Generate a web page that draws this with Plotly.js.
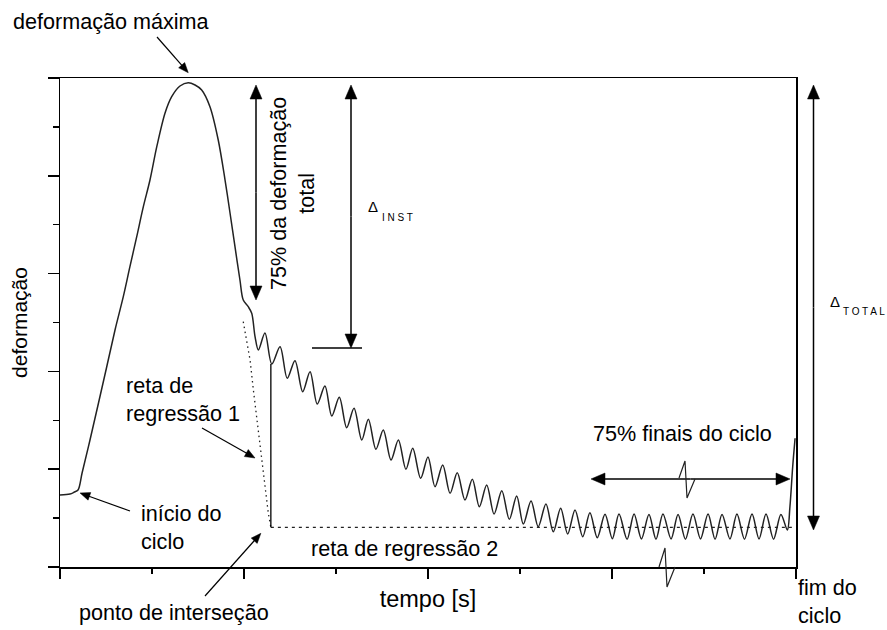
<!DOCTYPE html>
<html>
<head>
<meta charset="utf-8">
<script src="https://cdn.plot.ly/plotly-3.0.1.min.js"></script>
<style>html,body{margin:0;padding:0;background:#fff;}</style>
</head>
<body>
<div id="chart" style="width:887px;height:630px"></div>
<script>
// Deformation over one loading cycle (arbitrary units)
const tempo = [
  0.000, 0.054, 0.076, 0.098, 0.120, 0.163, 0.254, 0.299, 0.344, 0.380, 0.417, 0.453,
  0.489, 0.526, 0.571, 0.607, 0.652, 0.697, 0.734, 0.770, 0.815, 0.860,
  0.897, 0.924, 0.951, 0.978, 0.996, 1.023, 1.042, 1.060, 1.078,
  1.114, 1.151, 1.196, 1.235, 1.277, 1.319, 1.359, 1.398, 1.440, 1.477,
  1.518, 1.558, 1.598, 1.640, 1.676, 1.717, 1.757, 1.799, 1.839, 1.880,
  1.917, 1.960, 2.000, 2.038, 2.080, 2.120, 2.159, 2.201, 2.241, 2.279,
  2.319, 2.359, 2.401, 2.442, 2.482, 2.518, 2.560, 2.599, 2.641, 2.681,
  2.721, 2.759, 2.799, 2.841, 2.880, 2.920, 2.962, 3.002, 3.038, 3.082,
  3.120, 3.160, 3.201, 3.239, 3.277, 3.321, 3.359, 3.399, 3.440, 3.481,
  3.522, 3.560, 3.598, 3.641, 3.679, 3.720, 3.761, 3.799, 3.837, 3.878,
  3.918, 3.953, 3.967, 3.982, 3.995
];
const deformacao = [
  1.472, 1.493, 1.528, 1.575, 1.922, 2.597, 4.096, 4.847, 5.528, 6.141, 6.755, 7.368,
  7.914, 8.595, 9.284, 9.618, 9.836, 9.904, 9.857, 9.755, 9.413, 8.732,
  7.914, 7.239, 6.550, 5.869, 5.460, 5.323, 5.188, 4.710, 4.438,
  4.785, 4.151, 4.505, 3.859, 4.219, 3.585, 3.994, 3.333, 3.701, 3.088,
  3.470, 2.849, 3.245, 2.597, 3.020, 2.407, 2.802, 2.188, 2.597, 1.998,
  2.427, 1.814, 2.249, 1.642, 2.086, 1.507, 1.928, 1.370, 1.793, 1.233,
  1.677, 1.084, 1.560, 0.975, 1.452, 0.879, 1.350, 0.824, 1.288, 0.722,
  1.200, 0.675, 1.166, 0.620, 1.110, 0.600, 1.078, 0.580, 1.084, 0.570,
  1.084, 0.575, 1.074, 0.570, 1.084, 0.575, 1.074, 0.570, 1.084, 0.575,
  1.084, 0.570, 1.074, 0.575, 1.084, 0.570, 1.084, 0.575, 1.084, 0.570,
  1.074, 0.757, 1.233, 2.051, 2.632
];

// Regression line 1 (unloading branch)
const reg1Tempo  = [0.996, 1.033, 1.051, 1.078, 1.105, 1.132, 1.146];
const reg1Deform = [5.016, 4.233, 3.620, 2.740, 1.984, 1.104, 0.812];

// Intersection of regression lines 1 and 2
const intersecTempo = 1.146;
const intersecDeform = 0.812;

const W = 887, H = 630;
const M = {l: 60, r: 91, t: 78, b: 63};
const PW = W - M.l - M.r, PH = H - M.t - M.b;
const X_RANGE = [0, 4], Y_RANGE = [0, 10];

// pixel position -> paper coordinates
const pp = (px, py) => [(px - M.l) / PW, (H - M.b - py) / PH];
// data -> pixel position
const d2px = (x, y) => [
  M.l + (x - X_RANGE[0]) / (X_RANGE[1] - X_RANGE[0]) * PW,
  H - M.b - (y - Y_RANGE[0]) / (Y_RANGE[1] - Y_RANGE[0]) * PH
];

const FONT = 'Liberation Sans, Arial, Helvetica, sans-serif';
const TXT = 21.6;
const shapes = [];
const annotations = [];

function arrow(x0, y0, x1, y1, o = {}) {
  const w = o.w || 1.5, L = o.len || 14, hw = o.hw || 6;
  const dx = x1 - x0, dy = y1 - y0, d = Math.hypot(dx, dy);
  const ux = dx / d, uy = dy / d, nx = -uy, ny = ux;
  const bx = x1 - ux * L, by = y1 - uy * L;
  const a = pp(x0, y0), b = pp(bx + ux * 2, by + uy * 2);
  shapes.push({type: 'line', xref: 'paper', yref: 'paper',
    x0: a[0], y0: a[1], x1: b[0], y1: b[1], line: {color: '#000', width: w}});
  const p1 = pp(x1, y1), p2 = pp(bx + nx * hw, by + ny * hw), p3 = pp(bx - nx * hw, by - ny * hw);
  shapes.push({type: 'path', xref: 'paper', yref: 'paper',
    path: `M${p1[0]},${p1[1]} L${p2[0]},${p2[1]} L${p3[0]},${p3[1]} Z`,
    fillcolor: '#000', line: {color: '#000', width: 0.5}});
}
function doubleArrow(x0, y0, x1, y1, o) {
  const mx = (x0 + x1) / 2, my = (y0 + y1) / 2;
  arrow(mx, my, x0, y0, o);
  arrow(mx, my, x1, y1, o);
}
function polyline(pts, w, color) {
  const p = pts.map(q => pp(q[0], q[1]));
  shapes.push({type: 'path', xref: 'paper', yref: 'paper',
    path: 'M' + p.map(q => q[0] + ',' + q[1]).join(' L'),
    line: {color: color || '#222', width: w || 1.2}});
}
function label(text, px, py, o = {}) {
  const p = pp(px, py);
  annotations.push({text, xref: 'paper', yref: 'paper', x: p[0], y: p[1],
    xanchor: o.xanchor || 'left', yanchor: o.yanchor || 'middle',
    align: o.align || 'left', showarrow: false, textangle: o.angle || 0,
    font: {family: FONT, size: o.size || TXT, color: '#000'}});
}

// peak marker
let iMax = 0;
deformacao.forEach((v, i) => { if (v > deformacao[iMax]) iMax = i; });
const peak = d2px(tempo[iMax], deformacao[iMax]);
label('deformação máxima', 11, 21);
arrow(157, 37, peak[0], peak[1] - 10, {w: 1.2, len: 10, hw: 4});

// 75 % of total deformation
doubleArrow(256, 85, 256, 300);
label('75% da deformação<br>total', 292, 194, {angle: -90, xanchor: 'center', align: 'center'});

// instantaneous deformation
doubleArrow(351, 85, 351, 348);
polyline([[312, 348], [362, 348]], 1.3, '#000');
label('Δ', 373, 206, {size: 15, xanchor: 'center'});
label('I N S T', 380, 217, {size: 10});

// total deformation
doubleArrow(813.5, 85, 813.5, 530);
label('Δ', 835, 301, {size: 15, xanchor: 'center'});
label('T O T A L', 841, 311, {size: 10});

// last 75 % of the cycle
doubleArrow(591, 479, 790, 479);
label('75% finais do ciclo', 591, 433);
polyline([[679, 478], [685, 461], [687, 498], [695, 479]]);
polyline([[659, 567], [665, 548], [667, 587], [675, 567]]);

// regression 1
label('reta de<br>regressão 1', 124, 399);
arrow(202, 428, 255, 458, {w: 1.2, len: 10, hw: 4});

// cycle start
const start = d2px(tempo[3], deformacao[3]);
label('início do<br>ciclo', 139, 527);
arrow(130, 511, start[0] + 2, start[1] + 3, {w: 1.2, len: 10, hw: 4});

// intersection
const inter = d2px(intersecTempo, intersecDeform);
label('ponto de interseção', 77, 612);
arrow(205, 596, inter[0] - 10, inter[1] + 6, {w: 1.2, len: 10, hw: 4});

label('reta de regressão 2', 309, 548);
label('fim do<br>ciclo', 796, 601);

// point on the curve right above the intersection
let iDrop = 0;
tempo.forEach((t, i) => { if (Math.abs(t - intersecTempo) < Math.abs(tempo[iDrop] - intersecTempo)) iDrop = i; });

const traces = [
  {x: tempo, y: deformacao, type: 'scatter', mode: 'lines',
   line: {color: '#222', width: 1.5, shape: 'spline', smoothing: 0.9}},
  {x: reg1Tempo, y: reg1Deform, type: 'scatter', mode: 'lines',
   line: {color: '#222', width: 1.3, dash: '1.5px,3.5px'}},
  {x: [intersecTempo, tempo[tempo.length - 1]], y: [intersecDeform, intersecDeform],
   type: 'scatter', mode: 'lines', line: {color: '#222', width: 1.2, dash: '3px,4px'}},
  {x: [intersecTempo, intersecTempo], y: [intersecDeform, deformacao[iDrop]],
   type: 'scatter', mode: 'lines', line: {color: '#000', width: 1.3}}
];

const axisCommon = {
  showgrid: false, zeroline: false, showline: true, mirror: true,
  linecolor: '#000', linewidth: 1.5, ticks: 'outside', tickwidth: 1.5,
  tickcolor: '#000', showticklabels: false, fixedrange: true
};

const layout = {
  width: W, height: H, margin: M,
  paper_bgcolor: '#fff', plot_bgcolor: '#fff',
  showlegend: false,
  font: {family: FONT, size: TXT, color: '#000'},
  xaxis: Object.assign({}, axisCommon, {
    range: X_RANGE, tick0: 0, dtick: 1, ticklen: 10,
    minor: {dtick: 0.5, tick0: 0, ticks: 'outside', ticklen: 5, tickwidth: 1.5, tickcolor: '#000'},
    title: {text: 'tempo [s]', standoff: 13, font: {family: FONT, size: 23.5, color: '#000'}}
  }),
  yaxis: Object.assign({}, axisCommon, {
    range: Y_RANGE, tick0: 0, dtick: 2, ticklen: 11,
    minor: {dtick: 1, tick0: 0, ticks: 'outside', ticklen: 6, tickwidth: 1.5, tickcolor: '#000'},
    title: {text: 'deformação', standoff: 14, font: {family: FONT, size: 21, color: '#000'}}
  }),
  shapes, annotations
};

Plotly.newPlot('chart', traces, layout, {displayModeBar: false, staticPlot: true});
</script>
</body>
</html>
